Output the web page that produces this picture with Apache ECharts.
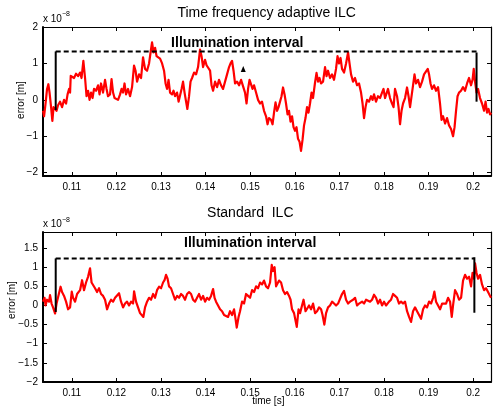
<!DOCTYPE html>
<html>
<head>
<meta charset="utf-8">
<script src="https://cdn.jsdelivr.net/npm/echarts@6/dist/echarts.min.js"></script>
<style>
html,body{margin:0;padding:0;background:#fff;}
#chart{width:493px;height:407px;}
</style>
</head>
<body>
<div id="chart"></div>
<script>
// ---------------- data (time in ms, error in units of 1e-8 m) ----------------
const titles = ['Time frequency adaptive ILC', 'Standard  ILC'];
const xTickValues = [0.11, 0.12, 0.13, 0.14, 0.15, 0.16, 0.17, 0.18, 0.19, 0.2];
const topYTicks = [-2, -1, 0, 1, 2];
const botYTicks = [-2, -1.5, -1, -0.5, 0, 0.5, 1, 1.5];

const topSignal = [
[103.56,-0.3],[103.79,-0.45],[104.12,-0.1],[104.46,0.3],[104.75,0.43],[105.02,0.2],[105.36,-0.2],[105.65,-0.58],[105.92,-0.2],[106.25,-0.25],
[106.59,-0.3],[106.92,-0.15],[107.37,-0.05],[107.82,-0.2],[108.27,0.0],[108.72,-0.1],[109.06,0.15],[109.39,0.3],[109.62,0.2],[109.77,0.66],
[110.07,0.7],[110.51,0.6],[110.96,0.72],[111.41,0.65],[111.86,0.75],[112.19,0.6],[112.6,1.07],[112.98,0.6],[113.31,0.1],[113.65,0.25],
[113.99,0.0],[114.32,0.2],[114.66,0.05],[114.99,0.3],[115.44,0.25],[115.89,0.4],[116.23,0.15],[116.56,0.45],[117.01,0.2],[117.46,0.55],
[117.8,0.3],[118.13,0.1],[118.58,0.15],[118.92,0.57],[119.26,0.2],[119.59,0.05],[119.93,0.1],[120.38,0.0],[120.83,0.15],[121.16,0.3],
[121.5,0.2],[121.83,0.45],[122.17,0.15],[122.62,0.3],[123.07,0.1],[123.52,0.35],[123.96,0.94],[124.3,0.8],[124.64,0.5],[125.09,0.7],
[125.54,0.6],[125.98,1.17],[126.43,0.85],[126.88,0.8],[127.33,1.0],[127.67,1.3],[128.0,1.58],[128.34,1.3],[128.68,1.43],[129.01,1.2],
[129.35,1.25],[129.8,1.13],[130.25,1.0],[130.69,0.8],[131.03,0.45],[131.37,0.3],[131.7,0.55],[132.04,0.2],[132.49,0.15],[132.82,0.25],
[133.16,0.1],[133.61,0.2],[133.95,-0.05],[134.28,-0.1],[134.62,0.3],[134.95,0.5],[135.29,0.2],[135.63,-0.05],[135.92,-0.25],[136.3,0.1],
[136.63,0.5],[136.97,0.6],[137.42,0.75],[137.87,0.7],[138.32,0.9],[138.76,1.38],[139.1,1.2],[139.44,0.9],[139.88,1.1],[140.22,0.95],
[140.56,1.0],[141.01,0.8],[141.34,0.4],[141.68,0.25],[142.13,0.5],[142.58,0.35],[143.02,0.55],[143.47,0.4],[143.92,0.3],[144.37,0.5],
[144.82,0.7],[145.27,0.9],[145.6,1.0],[145.94,1.07],[146.27,0.8],[146.61,0.45],[147.06,0.5],[147.51,0.4],[147.96,0.55],[148.4,0.5],
[148.85,0.2],[149.19,-0.1],[149.53,0.3],[149.86,0.55],[150.2,0.5],[150.53,0.3],[150.87,0.4],[151.32,0.2],[151.77,0.0],[152.21,-0.1],
[152.66,-0.05],[153.11,-0.3],[153.56,-0.45],[153.9,-0.67],[154.23,-0.5],[154.68,-0.55],[155.02,-0.67],[155.35,-0.35],[155.69,-0.07],[156.03,-0.3],
[156.36,-0.2],[156.7,-0.15],[157.03,0.1],[157.37,0.34],[157.71,0.15],[158.04,-0.1],[158.38,-0.4],[158.71,-0.3],[159.05,-0.6],[159.39,-0.45],
[159.72,-0.75],[160.06,-0.85],[160.39,-0.75],[160.73,-1.07],[161.07,-1.15],[161.4,-1.4],[161.74,-1.1],[162.08,-0.7],[162.41,-0.5],[162.75,-0.2],
[163.08,-0.35],[163.42,-0.1],[163.76,0.2],[164.09,0.05],[164.54,0.47],[164.88,0.74],[165.22,0.5],[165.55,0.6],[165.89,0.45],[166.34,0.5],
[166.79,0.9],[167.12,0.65],[167.46,0.8],[167.91,0.6],[168.36,0.7],[168.8,0.55],[169.25,0.85],[169.59,1.2],[169.93,1.0],[170.26,1.15],
[170.6,0.85],[171.05,0.75],[171.5,1.0],[171.95,1.3],[172.28,1.0],[172.62,0.7],[173.07,0.5],[173.51,0.6],[173.96,0.4],[174.41,0.45],
[174.86,0.2],[175.2,-0.1],[175.53,-0.5],[175.87,-0.2],[176.2,0.0],[176.65,-0.05],[177.1,0.1],[177.44,0.0],[177.77,0.15],[178.22,-0.05],
[178.67,0.1],[179.12,0.05],[179.57,0.2],[179.9,0.3],[180.24,0.05],[180.58,0.0],[180.91,0.3],[181.36,0.05],[181.81,-0.1],[182.15,-0.2],
[182.48,0.3],[182.93,0.1],[183.27,-0.2],[183.6,-0.67],[183.94,-0.3],[184.28,-0.1],[184.73,0.05],[185.17,0.34],[185.51,0.1],[185.85,-0.2],
[186.18,-0.15],[186.52,0.4],[186.85,0.7],[187.19,0.45],[187.64,0.55],[188.09,0.35],[188.54,0.5],[188.99,0.7],[189.43,0.75],[189.82,0.85],
[190.11,0.7],[190.44,0.45],[190.78,0.3],[191.23,0.4],[191.68,0.25],[192.13,0.35],[192.57,-0.1],[192.91,-0.55],[193.25,-0.45],[193.7,-0.65],
[194.14,-0.5],[194.59,-0.7],[195.04,-0.8],[195.49,-1.0],[195.83,-0.75],[196.16,-0.3],[196.5,0.1],[196.83,0.2],[197.28,0.25],[197.73,0.35],
[198.18,0.25],[198.63,0.45],[199.08,0.6],[199.52,0.4],[199.86,0.55],[200.13,0.85],[200.42,0.5],[200.76,0.2],[201.1,0.3],[201.54,0.05],
[201.99,-0.1],[202.44,-0.3],[202.78,-0.05],[203.11,-0.35],[203.45,-0.25],[203.79,-0.4],[204.01,-0.35]
];

const botSignal = [
[103.56,0.1],[103.90,0.2],[104.12,0.0],[104.46,0.15],[104.91,0.1],[105.13,0.27],[105.47,0.05],[105.80,-0.05],[106.25,-0.21],[106.59,0.05],
[106.92,0.1],[107.49,0.49],[107.82,0.35],[108.27,0.25],[108.72,0.1],[109.17,-0.1],[109.62,-0.05],[110.00,0.36],[110.29,0.2],[110.74,0.1],
[111.19,0.3],[111.52,0.35],[111.86,0.4],[112.31,0.66],[112.75,0.4],[113.20,0.6],[113.65,0.75],[114.10,0.97],[114.44,0.6],[114.77,0.55],
[115.22,0.45],[115.67,0.35],[116.12,0.45],[116.57,0.3],[117.02,0.25],[117.46,0.15],[117.91,-0.1],[118.36,0.05],[118.81,0.15],[119.26,0.1],
[119.71,0.2],[120.15,0.25],[120.60,0.32],[121.05,0.1],[121.50,-0.05],[121.95,0.05],[122.40,0.1],[122.84,0.0],[123.29,0.1],[123.74,0.05],
[123.97,0.37],[124.41,0.1],[124.86,-0.05],[125.31,-0.2],[125.65,-0.15],[126.05,-0.3],[126.43,-0.05],[126.88,0.1],[127.33,0.2],[127.78,0.15],
[128.23,0.3],[128.67,0.2],[129.12,0.4],[129.57,0.49],[130.02,0.45],[130.47,0.6],[130.80,0.66],[131.14,0.8],[131.48,0.7],[131.81,0.5],
[132.26,0.45],[132.71,0.3],[133.16,0.15],[133.61,0.25],[134.06,0.2],[134.50,0.3],[134.95,0.25],[135.40,0.15],[135.85,0.3],[136.30,0.35],
[136.75,0.3],[137.19,0.15],[137.64,0.1],[138.09,0.2],[138.54,0.3],[138.99,0.15],[139.44,0.25],[139.89,0.1],[140.33,0.2],[140.78,0.15],
[141.23,0.25],[141.68,0.43],[142.02,0.2],[142.35,0.1],[142.80,0.0],[143.25,-0.1],[143.70,-0.15],[144.15,-0.25],[144.59,-0.2],[145.04,-0.3],
[145.49,-0.15],[145.94,-0.25],[146.39,-0.1],[146.72,-0.35],[146.99,-0.58],[147.40,-0.3],[147.73,-0.15],[148.18,0.1],[148.63,0.05],[149.08,0.3],
[149.53,0.25],[149.98,0.2],[150.42,0.4],[150.87,0.35],[151.32,0.5],[151.77,0.45],[152.22,0.6],[152.67,0.55],[153.11,0.65],[153.56,0.5],
[154.01,0.45],[154.46,0.6],[154.84,1.06],[155.13,0.9],[155.47,1.0],[155.81,0.5],[156.14,0.45],[156.48,0.65],[156.93,0.6],[157.37,0.4],
[157.82,0.3],[158.27,0.35],[158.72,0.25],[159.06,0.15],[159.39,-0.1],[159.84,-0.2],[160.45,-0.56],[160.85,-0.1],[161.19,-0.2],[161.63,0.0],
[161.97,0.15],[162.42,-0.15],[162.76,-0.2],[163.20,0.0],[163.65,-0.1],[164.10,0.05],[164.55,-0.2],[165.00,-0.15],[165.45,-0.05],[165.90,-0.1],
[166.23,-0.25],[166.63,-0.5],[167.02,-0.2],[167.46,-0.05],[167.91,0.0],[168.36,0.1],[168.81,0.05],[169.26,0.0],[169.71,0.05],[170.15,0.1],
[170.60,0.3],[171.05,0.38],[171.50,0.15],[171.95,0.05],[172.40,0.1],[173.07,0.15],[173.52,0.2],[173.97,0.0],[174.42,0.05],[175.09,0.1],
[175.54,0.05],[175.99,0.15],[176.43,0.2],[176.88,0.1],[177.33,0.15],[177.78,0.28],[178.23,0.2],[178.68,0.05],[179.12,0.15],[179.57,0.0],
[180.02,0.1],[180.47,0.0],[180.81,-0.05],[181.14,0.1],[181.59,0.15],[182.04,0.3],[182.49,0.25],[182.94,0.2],[183.38,0.05],[183.83,0.1],
[184.28,0.05],[184.73,0.1],[185.18,-0.15],[185.63,-0.3],[186.07,-0.43],[186.52,-0.15],[186.97,-0.05],[187.42,-0.15],[187.87,-0.25],[188.32,-0.35],
[188.77,-0.1],[189.21,0.0],[189.66,-0.05],[190.11,0.1],[190.56,0.05],[191.01,0.2],[191.30,0.36],[191.68,0.1],[192.13,0.0],[192.58,-0.1],
[193.03,0.05],[193.47,0.1],[193.92,0.05],[194.37,0.2],[194.82,0.1],[195.20,-0.3],[195.49,0.0],[195.94,0.4],[196.39,0.3],[196.84,0.15],
[197.29,0.2],[197.73,0.65],[198.18,0.8],[198.63,0.7],[199.08,0.75],[199.53,0.5],[199.86,0.85],[200.20,0.7],[200.43,1.1],[200.76,0.85],
[201.10,0.7],[201.55,0.8],[201.99,0.55],[202.44,0.4],[202.89,0.45],[203.34,0.35],[203.79,0.25],[204.01,0.2]
];

// illumination interval annotation: [start ms, end ms, level, left bar bottom, right bar top, right bar bottom]
const topIllum = [106.4, 200.76, 1.33, -0.28, 1.3, -0.05];
const botIllum = [106.4, 200.27, 1.23, -0.17, 1.26, -0.19];
const illumLabel = 'Illumination interval';
const topLabelPos = [147.1, 1.55];
const botLabelPos = [150.0, 1.63];
const topMarker = [148.45, 0.85];

// ---------------- chart ----------------
const FONT = '"Liberation Sans", Arial, Helvetica, sans-serif';
const XMIN = 0.10355, XMAX = 0.2040;
const ms = v => v / 1000;
const fmtY = v => (v < 0 ? '\u2212' : '') + Math.abs(v);
const fmtX = v => String(+v.toFixed(2));

function xAxes(g) {
  return [
    { gridIndex: g, type: 'value', position: 'bottom', min: XMIN, max: XMAX,
      axisLine: { onZero: false, lineStyle: { color: '#000', width: 2 } },
      axisTick: { inside: true, length: 4, customValues: xTickValues, lineStyle: { color: '#000', width: 1 } },
      axisLabel: { customValues: xTickValues, formatter: fmtX, fontSize: 10, color: '#000', margin: 6, fontFamily: FONT },
      splitLine: { show: false } },
    { gridIndex: g, type: 'value', position: 'top', min: XMIN, max: XMAX,
      axisLine: { onZero: false, lineStyle: { color: '#000', width: 1.2 } },
      axisTick: { inside: true, length: 4, customValues: xTickValues, lineStyle: { color: '#000', width: 1 } },
      axisLabel: { show: false }, splitLine: { show: false } }
  ];
}
function yAxes(g, mn, mx, ticks) {
  return [
    { gridIndex: g, type: 'value', position: 'left', min: mn, max: mx,
      axisLine: { show: true, onZero: false, lineStyle: { color: '#000', width: 2 } },
      axisTick: { show: true, inside: true, length: 4, customValues: ticks, lineStyle: { color: '#000', width: 1 } },
      axisLabel: { customValues: ticks, formatter: fmtY, fontSize: 10, color: '#000', margin: 5, fontFamily: FONT },
      splitLine: { show: false } },
    { gridIndex: g, type: 'value', position: 'right', min: mn, max: mx,
      axisLine: { show: true, onZero: false, lineStyle: { color: '#000', width: 1.2 } },
      axisTick: { show: true, inside: true, length: 4, customValues: ticks, lineStyle: { color: '#000', width: 1 } },
      axisLabel: { show: false }, splitLine: { show: false } }
  ];
}

function blackLine(xi, yi, pts, dashed) {
  return { type: 'line', xAxisIndex: xi, yAxisIndex: yi, data: pts, showSymbol: false, silent: true,
    lineStyle: { color: '#000', width: 2, type: dashed ? [5, 3] : 'solid' }, z: 3, animation: false };
}
function illumSeries(xi, yi, a, labelPos) {
  const [s, e, lvl, lb, rt, rb] = a;
  return [
    blackLine(xi, yi, [[ms(s), lvl], [ms(e), lvl]], true),
    blackLine(xi, yi, [[ms(s), lvl], [ms(s), lb]], false),
    blackLine(xi, yi, [[ms(e), rt], [ms(e), rb]], false),
    { type: 'scatter', xAxisIndex: xi, yAxisIndex: yi, data: [[ms(labelPos[0]), labelPos[1]]], symbolSize: 1,
      itemStyle: { color: 'rgba(0,0,0,0)', opacity: 1 }, silent: true, animation: false, z: 5,
      label: { show: true, position: 'inside', formatter: illumLabel, color: '#000', opacity: 1, textBorderWidth: 0,
               fontWeight: 'bold', fontSize: 14, fontFamily: FONT } }
  ];
}
function signalSeries(xi, yi, data) {
  return { type: 'line', xAxisIndex: xi, yAxisIndex: yi, data: data.map(p => [ms(p[0]), p[1]]),
    showSymbol: false, animation: false, z: 2,
    lineStyle: { color: '#ff0000', width: 2.2, join: 'round' } };
}

const chart = echarts.init(document.getElementById('chart'), null, { renderer: 'canvas' });
chart.setOption({
  backgroundColor: '#fff',
  animation: false,
  grid: [
    { left: 43, right: 2, top: 27, height: 149 },
    { left: 43, right: 2, top: 232, height: 150 }
  ],
  xAxis: [...xAxes(0), ...xAxes(1)],
  yAxis: [...yAxes(0, -2.09, 2, topYTicks), ...yAxes(1, -2, 1.92, botYTicks)],
  series: [
    signalSeries(0, 0, topSignal),
    ...illumSeries(0, 0, topIllum, topLabelPos),
    { type: 'scatter', xAxisIndex: 0, yAxisIndex: 0, data: [[ms(topMarker[0]), topMarker[1]]], symbol: 'triangle',
      symbolSize: [5, 6], itemStyle: { color: '#000', opacity: 1 }, silent: true, animation: false, z: 4 },
    signalSeries(2, 2, botSignal),
    ...illumSeries(2, 2, botIllum, botLabelPos)
  ],
  graphic: [
    { type: 'text', x: 266.7, y: 13.3, style: { text: titles[0], fontSize: 14, fontFamily: FONT, fill: '#000', textAlign: 'center', textVerticalAlign: 'middle' } },
    { type: 'text', x: 250.3, y: 213.3, style: { text: titles[1], fontSize: 14, fontFamily: FONT, fill: '#000', textAlign: 'center', textVerticalAlign: 'middle' } },
    { type: 'text', x: 43, y: 19, style: { text: 'x 10', fontSize: 10, fontFamily: FONT, fill: '#000', textAlign: 'left', textVerticalAlign: 'middle' } },
    { type: 'text', x: 62, y: 14.5, style: { text: '\u22128', fontSize: 7, fontFamily: FONT, fill: '#000', textAlign: 'left', textVerticalAlign: 'middle' } },
    { type: 'text', x: 43, y: 224.5, style: { text: 'x 10', fontSize: 10, fontFamily: FONT, fill: '#000', textAlign: 'left', textVerticalAlign: 'middle' } },
    { type: 'text', x: 62, y: 220, style: { text: '\u22128', fontSize: 7, fontFamily: FONT, fill: '#000', textAlign: 'left', textVerticalAlign: 'middle' } },
    { type: 'text', x: 21.5, y: 100, rotation: Math.PI / 2, style: { text: 'error [m]', fontSize: 10, fontFamily: FONT, fill: '#000', textAlign: 'center', textVerticalAlign: 'middle' } },
    { type: 'text', x: 12.7, y: 300, rotation: Math.PI / 2, style: { text: 'error [m]', fontSize: 10, fontFamily: FONT, fill: '#000', textAlign: 'center', textVerticalAlign: 'middle' } },
    { type: 'text', x: 268.3, y: 401.5, style: { text: 'time [s]', fontSize: 10, fontFamily: FONT, fill: '#000', textAlign: 'center', textVerticalAlign: 'middle' } }
  ]
});
</script>
</body>
</html>
